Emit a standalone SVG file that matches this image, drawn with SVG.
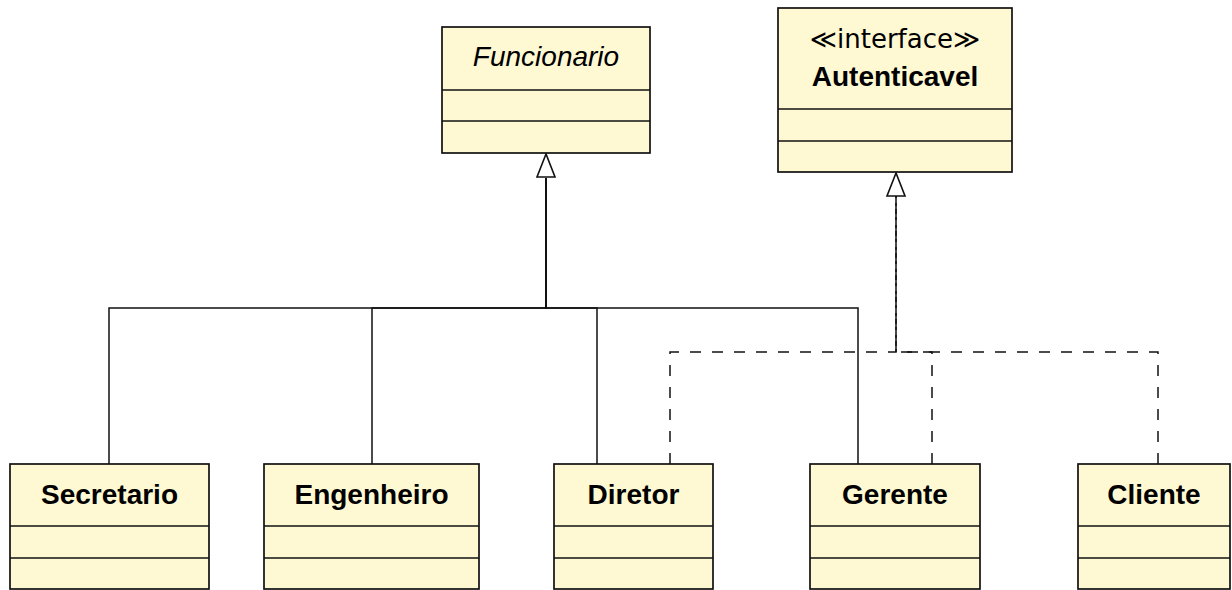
<svg xmlns="http://www.w3.org/2000/svg" width="1232" height="590" viewBox="0 0 1232 590">
<style>
.box{fill:#FFF9D3;stroke:#111;stroke-width:1.7}
.div{stroke:#111;stroke-width:1.5;fill:none}
.t{font-family:"Liberation Sans",Arial,sans-serif;font-size:28px;fill:#000;text-anchor:middle}
.b{font-weight:bold}
.i{font-style:italic}
.st{font-family:"DejaVu Sans","Liberation Sans",sans-serif;font-size:26px;fill:#000;text-anchor:middle}
.sol{stroke:#111;stroke-width:1.5;fill:none}
.dash{stroke:#111;stroke-width:1.5;fill:none;stroke-dasharray:11 11}
.tri{fill:#fff;stroke:#111;stroke-width:1.6}
</style>
<rect width="1232" height="590" fill="#fff"/>
<g id="connectors">
  <path class="sol" d="M109,464 V308 H546 V178"/>
  <path class="sol" d="M372,464 V308 H546 V178"/>
  <path class="sol" d="M597,464 V308 H546 V178"/>
  <path class="sol" d="M858,464 V308 H546 V178"/>
  <path class="dash" d="M670,464 V352 H896 V196"/>
  <path class="dash" d="M932,464 V352 H896 V196"/>
  <path class="dash" d="M1158,464 V352 H896 V196"/>
  <polygon class="tri" points="546,154 537,177 555,177"/>
  <polygon class="tri" points="896,173 887,196 905,196"/>
</g>
<g id="Funcionario">
  <rect class="box" x="442" y="27" width="208" height="126"/>
  <line class="div" x1="442" y1="90" x2="650" y2="90"/>
  <line class="div" x1="442" y1="121" x2="650" y2="121"/>
  <text class="t i" x="546" y="66">Funcionario</text>
</g>
<g id="Autenticavel">
  <rect class="box" x="778" y="8" width="234" height="164"/>
  <line class="div" x1="778" y1="109" x2="1012" y2="109"/>
  <line class="div" x1="778" y1="141" x2="1012" y2="141"/>
  <text class="st" x="895" y="48">≪interface≫</text>
  <text class="t b" x="895" y="86">Autenticavel</text>
</g>
<g id="Secretario">
  <rect class="box" x="10" y="464" width="199" height="125"/>
  <line class="div" x1="10" y1="526" x2="209" y2="526"/>
  <line class="div" x1="10" y1="558" x2="209" y2="558"/>
  <text class="t b" x="109.5" y="504">Secretario</text>
</g>
<g id="Engenheiro">
  <rect class="box" x="264" y="464" width="215" height="125"/>
  <line class="div" x1="264" y1="526" x2="479" y2="526"/>
  <line class="div" x1="264" y1="558" x2="479" y2="558"/>
  <text class="t b" x="371.5" y="504">Engenheiro</text>
</g>
<g id="Diretor">
  <rect class="box" x="554" y="464" width="159" height="125"/>
  <line class="div" x1="554" y1="526" x2="713" y2="526"/>
  <line class="div" x1="554" y1="558" x2="713" y2="558"/>
  <text class="t b" x="633.5" y="504">Diretor</text>
</g>
<g id="Gerente">
  <rect class="box" x="810" y="464" width="170" height="125"/>
  <line class="div" x1="810" y1="526" x2="980" y2="526"/>
  <line class="div" x1="810" y1="558" x2="980" y2="558"/>
  <text class="t b" x="895" y="504">Gerente</text>
</g>
<g id="Cliente">
  <rect class="box" x="1078" y="464" width="152" height="125"/>
  <line class="div" x1="1078" y1="526" x2="1230" y2="526"/>
  <line class="div" x1="1078" y1="558" x2="1230" y2="558"/>
  <text class="t b" x="1154" y="504">Cliente</text>
</g>
</svg>
